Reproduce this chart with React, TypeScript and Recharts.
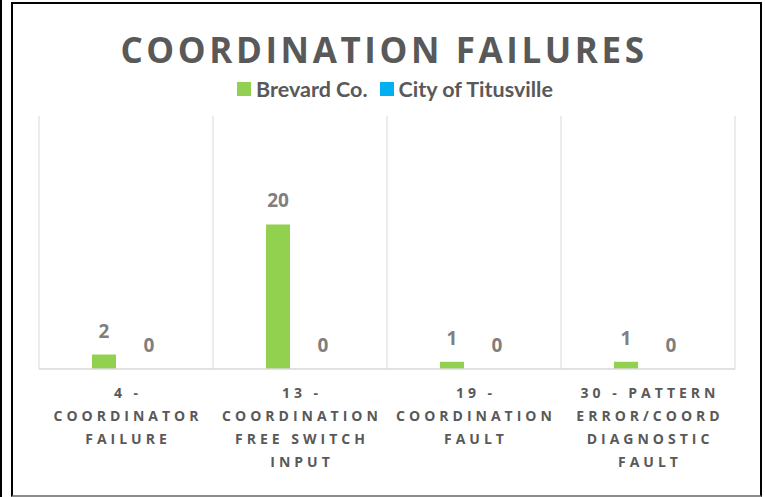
import { BarChart, Bar, XAxis, YAxis, CartesianGrid, LabelList } from "recharts";

const categories = [
  "4 - COORDINATOR FAILURE",
  "13 - COORDINATION FREE SWITCH INPUT",
  "19 - COORDINATION FAULT",
  "30 - PATTERN ERROR/COORD DIAGNOSTIC FAULT",
];
const brevard = [2, 20, 1, 1];
const titusville = [0, 0, 0, 0];
const seriesNames = ["Brevard Co.", "City of Titusville"];
const seriesColors = ["#92D050", "#00B0F0"];

const data = categories.map((name, i) => ({
  name,
  brevard: brevard[i],
  titusville: titusville[i],
}));

const GRAY = "#595959";

// excel-style word wrap for the category labels
function wrap(text: string, max = 12) {
  const lines: string[] = [];
  let cur = "";
  for (const w of text.split(" ")) {
    const next = cur ? cur + " " + w : w;
    if (next.length > max && cur) {
      lines.push(cur);
      cur = w;
    } else {
      cur = next;
    }
  }
  if (cur) lines.push(cur);
  return lines;
}

function CategoryTick({ x, y, payload }: any) {
  const lines = wrap(payload.value);
  const ls = 4;
  return (
    <text
      x={x}
      y={y}
      textAnchor="middle"
      fill={GRAY}
      fontFamily="'Open Sans', sans-serif"
      fontWeight={700}
      fontSize={14}
      letterSpacing={ls}
    >
      {lines.map((l, i) => (
        <tspan key={i} x={x + ls / 2} dy={i === 0 ? 21 : 23}>
          {l}
        </tspan>
      ))}
    </text>
  );
}

// value label drawn above the bar, also for zero-height bars
function ValueLabel({ x, y, width, value }: any) {
  if (value == null) return null;
  return (
    <text
      x={Number(x) + Number(width) / 2}
      y={Number(y) - 17}
      textAnchor="middle"
      fill="#7f7f7f"
      fontFamily="'Open Sans', sans-serif"
      fontWeight={700}
      fontSize={19}
    >
      {value}
    </text>
  );
}

export default function App() {
  return (
    <div
      style={{
        position: "absolute",
        left: 0,
        top: 0,
        width: 765,
        height: 497,
        background: "#fff",
        overflow: "hidden",
      }}
    >
      <div style={{ position: "absolute", left: 0, top: 0, width: 2, height: 497, background: "#000" }} />
      <div
        style={{
          position: "absolute",
          left: 11,
          top: 2,
          width: 747,
          height: 491,
          borderLeft: "2px solid #000",
          borderTop: "2px solid #000",
          borderRight: "2px solid #000",
          borderBottom: "2px solid #8c8c8c",
        }}
      />
      <div
        style={{
          position: "absolute",
          left: 0,
          top: 27,
          width: 768,
          textAlign: "center",
          fontFamily: "'Open Sans', sans-serif",
          fontWeight: 700,
          fontSize: 35,
          letterSpacing: 3.6,
          color: GRAY,
          lineHeight: "46px",
        }}
      >
        COORDINATION FAILURES
      </div>
      <div
        style={{
          position: "absolute",
          left: 0,
          top: 78,
          width: 790,
          display: "flex",
          justifyContent: "center",
          gap: 12,
          fontFamily: "Lato, sans-serif",
          fontWeight: 700,
          fontSize: 21.5,
          color: GRAY,
          lineHeight: "22px",
        }}
      >
        {seriesNames.map((n, i) => (
          <div key={n} style={{ display: "flex", alignItems: "center", gap: 5 }}>
            <div style={{ width: 14, height: 14, background: seriesColors[i] }} />
            <span>{n}</span>
          </div>
        ))}
      </div>
      <div style={{ position: "absolute", left: 0, top: 0 }}>
        <BarChart
          width={765}
          height={497}
          data={data}
          margin={{ top: 116, left: 39, right: 30, bottom: 28 }}
          barSize={24}
          barGap={21}
        >
          <CartesianGrid
            horizontal={false}
            stroke="#d9d9d9"
            verticalCoordinatesGenerator={({ offset }: any) =>
              [0, 1, 2, 3, 4].map((i) => offset.left + (i * offset.width) / categories.length)
            }
          />
          <XAxis
            dataKey="name"
            height={100}
            interval={0}
            tickLine={false}
            axisLine={{ stroke: "#d9d9d9", strokeWidth: 1.5 }}
            tick={<CategoryTick />}
          />
          <YAxis hide domain={[0, 35]} />
          <Bar
            dataKey="brevard"
            name={seriesNames[0]}
            fill={seriesColors[0]}
            isAnimationActive={false}
          >
            <LabelList dataKey="brevard" content={<ValueLabel />} />
          </Bar>
          <Bar
            dataKey="titusville"
            name={seriesNames[1]}
            fill={seriesColors[1]}
            minPointSize={0.01}
            isAnimationActive={false}
          >
            <LabelList dataKey="titusville" content={<ValueLabel />} />
          </Bar>
        </BarChart>
      </div>
    </div>
  );
}
